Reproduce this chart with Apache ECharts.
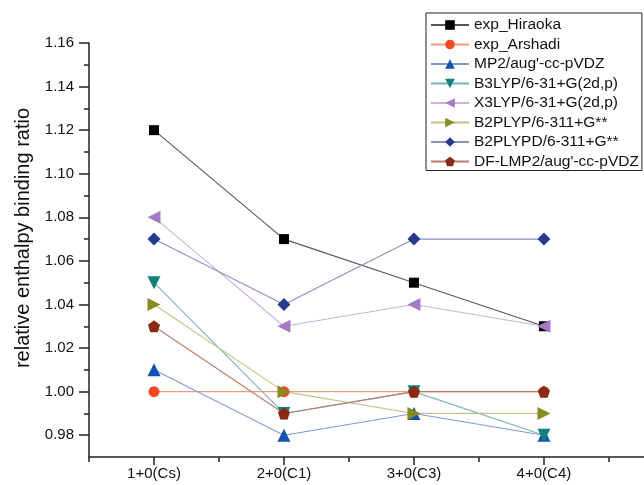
<!DOCTYPE html>
<html>
<head>
<meta charset="utf-8">
<script src="https://cdn.jsdelivr.net/npm/echarts@6/dist/echarts.min.js"></script>
<style>
  html, body { margin: 0; padding: 0; background: #fff; }
  #chart { width: 644px; height: 485px; }
</style>
</head>
<body>
<div id="chart"></div>
<script>
const categories = ["1+0(Cs)", "2+0(C1)", "3+0(C3)", "4+0(C4)"];

const hiraoka = [1.12, 1.07, 1.05, 1.03];
const arshadi = [1.00, 1.00, 1.00, 1.00];
const mp2 = [1.01, 0.98, 0.99, 0.98];
const b3lyp = [1.05, 0.99, 1.00, 0.98];
const x3lyp = [1.08, 1.03, 1.04, 1.03];
const b2plyp = [1.04, 1.00, 0.99, 0.99];
const b2plypd = [1.07, 1.04, 1.07, 1.07];
const dflmp2 = [1.03, 0.99, 1.00, 1.00];

const yMajor = [0.98, 1.00, 1.02, 1.04, 1.06, 1.08, 1.10, 1.12, 1.14, 1.16];
const yMinor = [0.99, 1.01, 1.03, 1.05, 1.07, 1.09, 1.11, 1.13, 1.15];
const xMajor = [1, 2, 3, 4];
const xMinor = [0.5, 1.5, 2.5, 3.5, 4.5];

const pentagon = "path://M0,-10 L9.51,-3.09 L5.88,8.09 L-5.88,8.09 L-9.51,-3.09 Z";

// name, values, marker color, line color, symbol, size, rotate
const defs = [
  ["exp_Hiraoka", hiraoka, "#000000", "#555555", "rect", 10, 0],
  ["exp_Arshadi", arshadi, "#f04a1e", "#f29a7a", "circle", 11, 0],
  ["MP2/aug'-cc-pVDZ", mp2, "#1452b0", "#7f9bd3", "triangle", 13, 0],
  ["B3LYP/6-31+G(2d,p)", b3lyp, "#128080", "#74b6b4", "triangle", 13, 180],
  ["X3LYP/6-31+G(2d,p)", x3lyp, "#a57cc4", "#c9b1dc", "triangle", 13, 90],
  ["B2PLYP/6-311+G**", b2plyp, "#8a8a22", "#c5c08a", "triangle", 13, -90],
  ["B2PLYPD/6-311+G**", b2plypd, "#263a8e", "#8a90c2", "diamond", 13, 0],
  ["DF-LMP2/aug'-cc-pVDZ", dflmp2, "#8b2a14", "#b97a6c", pentagon, 12, 0]
];

const series = defs.map(([name, vals, c, lc, sym, size, rot]) => ({
  name,
  type: "line",
  data: vals.map((v, i) => [i + 1, v]),
  symbol: sym,
  symbolSize: size,
  symbolRotate: rot,
  showAllSymbol: true,
  itemStyle: { color: c, opacity: 1 },
  lineStyle: { color: lc, width: 1.1 },
  emphasis: { disabled: true }
}));

const font = "'Liberation Sans', Arial, sans-serif";
const axisColor = "#222";

const chart = echarts.init(document.getElementById("chart"), null, { renderer: "canvas" });
chart.setOption({
  animation: false,
  backgroundColor: "#fff",
  grid: { left: 89, right: 0, top: 43, bottom: 28 },
  legend: {
    orient: "vertical",
    left: 426,
    top: 13,
    borderColor: "#222",
    borderWidth: 1,
    padding: [4, 3, 1, 4],
    itemWidth: 38,
    itemHeight: 12,
    itemGap: 3.5,
    textStyle: { fontFamily: font, fontSize: 15.5, color: "#111", lineHeight: 14 },
    data: defs.map((d) => d[0])
  },
  xAxis: [
    {
      type: "value",
      min: 0.5,
      max: 4.77,
      splitLine: { show: false },
      axisLine: { lineStyle: { color: axisColor, width: 1.5 } },
      axisTick: { customValues: xMajor, length: 8, lineStyle: { color: axisColor, width: 1.5 } },
      axisLabel: {
        customValues: xMajor,
        formatter: (v) => categories[Math.round(v) - 1] || "",
        margin: 9,
        fontFamily: font,
        fontSize: 15,
        color: "#111"
      }
    },
    {
      type: "value",
      position: "bottom",
      min: 0.5,
      max: 4.77,
      splitLine: { show: false },
      axisLine: { show: false },
      axisTick: { customValues: xMinor, length: 5, lineStyle: { color: axisColor, width: 1.5 } },
      axisLabel: { show: false }
    }
  ],
  yAxis: [
    {
      type: "value",
      min: 0.97,
      max: 1.16,
      name: "relative enthalpy binding ratio",
      nameLocation: "middle",
      nameGap: 56,
      nameTextStyle: { fontFamily: font, fontSize: 20, color: "#111", padding: [0, 0, 0, 24] },
      splitLine: { show: false },
      axisLine: { show: true, lineStyle: { color: axisColor, width: 1.5 } },
      axisTick: { show: true, customValues: yMajor, length: 10, lineStyle: { color: axisColor, width: 1.5 } },
      axisLabel: {
        customValues: yMajor,
        formatter: (v) => v.toFixed(2),
        margin: 15,
        fontFamily: font,
        fontSize: 15,
        color: "#111"
      }
    },
    {
      type: "value",
      position: "left",
      min: 0.97,
      max: 1.16,
      splitLine: { show: false },
      axisLine: { show: false },
      axisTick: { show: true, customValues: yMinor, length: 5, lineStyle: { color: axisColor, width: 1.5 } },
      axisLabel: { show: false }
    }
  ],
  series
});
</script>
</body>
</html>
